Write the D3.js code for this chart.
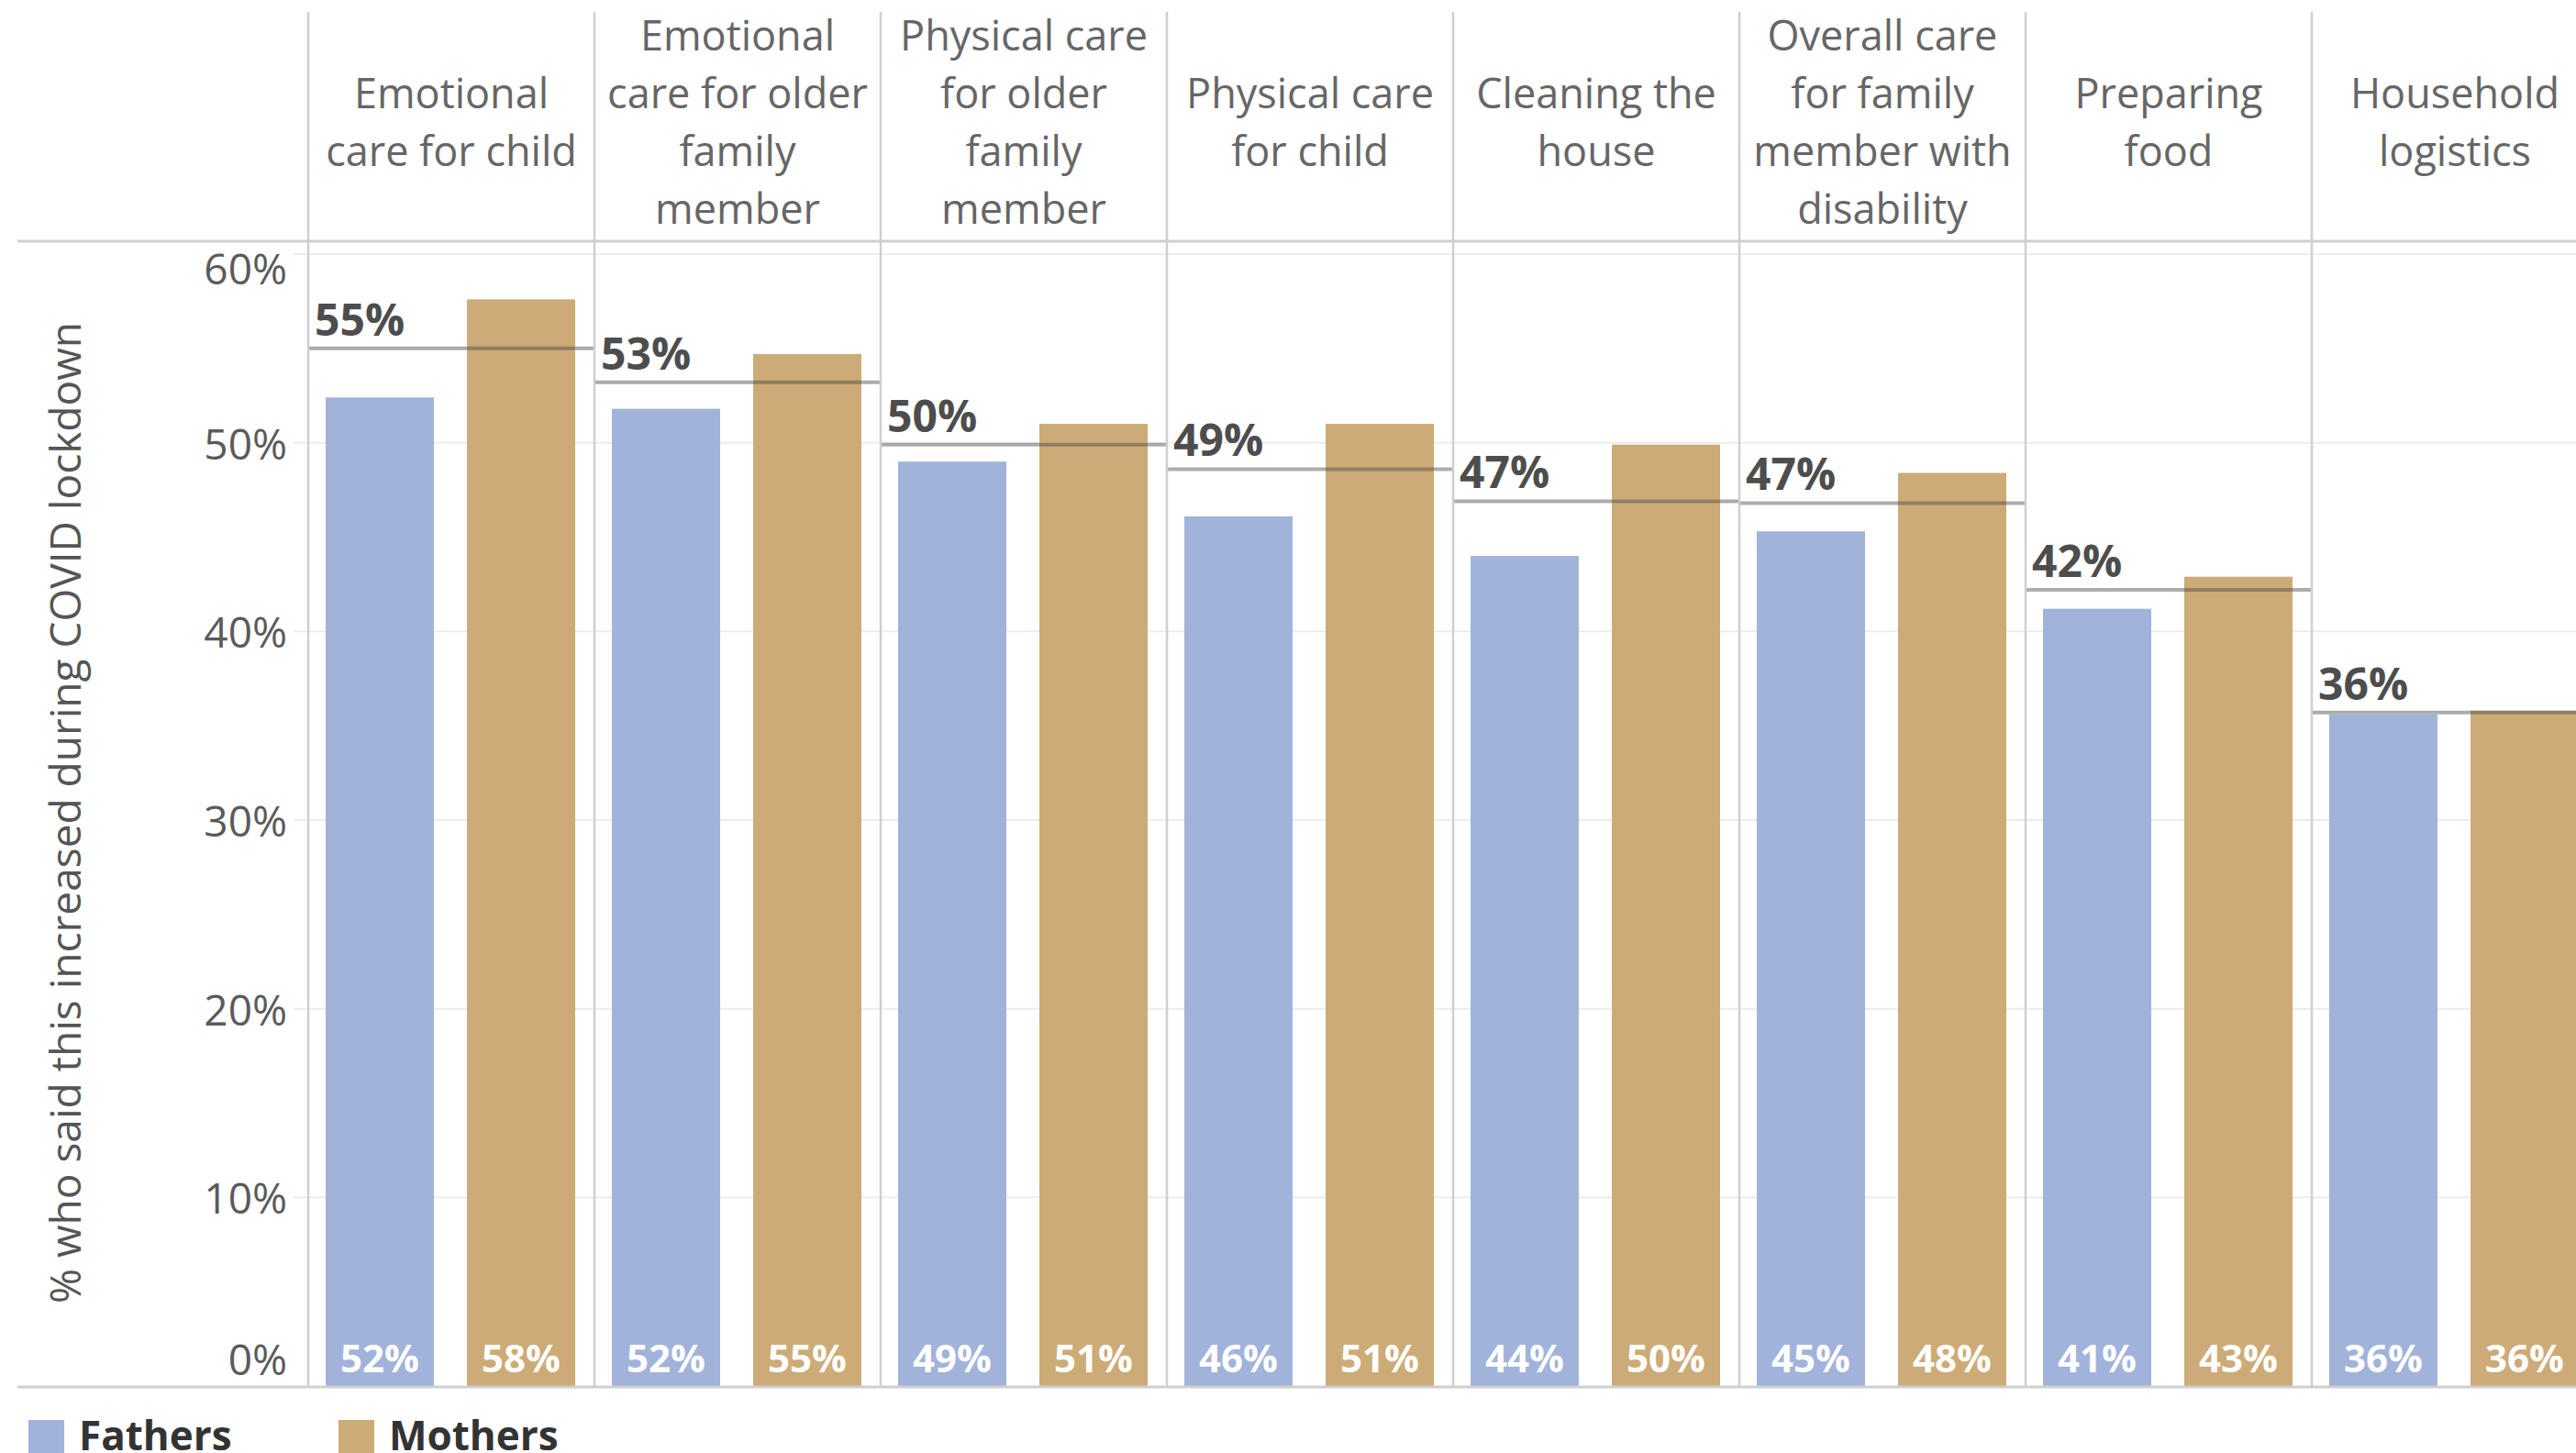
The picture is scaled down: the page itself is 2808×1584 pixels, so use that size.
<!DOCTYPE html>
<html>
<head>
<meta charset="utf-8">
<script src="https://cdn.jsdelivr.net/npm/d3@7"></script>
<style>
  body { margin: 0; background: #fff; }
  svg { display: block; font-family: "Open Sans", sans-serif; }
</style>
</head>
<body>
<svg width="2808" height="1584"></svg>
<script>
var svg = d3.select("svg");
var width = 2808;
var height = 1584;

// data
var categories = [
    "Emotional care for child",
    "Emotional care for older family member",
    "Physical care for older family member",
    "Physical care for child",
    "Cleaning the house",
    "Overall care for family member with disability",
    "Preparing food",
    "Household logistics"
];
// how the column headers wrap
var headerLines = [
    ["Emotional", "care for child"],
    ["Emotional", "care for older", "family", "member"],
    ["Physical care", "for older", "family", "member"],
    ["Physical care", "for child"],
    ["Cleaning the", "house"],
    ["Overall care", "for family", "member with", "disability"],
    ["Preparing", "food"],
    ["Household", "logistics"]
];
var fathers = [52.4, 51.8, 49.0, 46.1, 44.0, 45.3, 41.2, 35.6];
var mothers = [57.6, 54.7, 51.0, 51.0, 49.9, 48.4, 42.9, 35.8];
var average = [55.0, 53.2, 49.9, 48.6, 46.9, 46.8, 42.2, 35.7];
var series = ["Fathers", "Mothers"];
var yTicks = [0, 10, 20, 30, 40, 50, 60];

var colors = { Fathers: "#a1b3da", Mothers: "#cdab77" };

var headerBottom = 263;
var plotLeft = 336;
var colWidth = 312;

var x = d3.scaleBand()
    .domain(categories)
    .range([plotLeft, plotLeft + colWidth * categories.length])
    .padding(0);

// position of the two bars inside a column
var x1 = d3.scaleBand()
    .domain(series)
    .range([19, colWidth - 21])
    .paddingInner(0.234)
    .paddingOuter(0);

var y = d3.scaleLinear()
    .domain([0, 60])
    .range([1511, 277]);

var rows = categories.map((c, i) => ({
    cat: c,
    lines: headerLines[i],
    Fathers: fathers[i],
    Mothers: mothers[i],
    avg: average[i]
}));

// faint gridlines
svg.append("g")
    .selectAll("line")
    .data(yTicks.filter(t => t > 0))
    .enter()
    .append("line")
    .attr("x1", 320)
    .attr("x2", width)
    .attr("y1", d => y(d))
    .attr("y2", d => y(d))
    .attr("stroke", "#ececec")
    .attr("stroke-width", 2);

// y tick labels (end labels pulled inward like the original)
svg.append("g")
    .selectAll("text")
    .data(yTicks)
    .enter()
    .append("text")
    .attr("x", 313)
    .attr("y", d => y(d) + (d === 60 ? 15 : d === 0 ? -30 : 0))
    .attr("text-anchor", "end")
    .attr("dominant-baseline", "central")
    .attr("font-size", 46)
    .attr("fill", "#5a5a5a")
    .text(d => d + "%");

// y axis title
svg.append("text")
    .attr("transform", "translate(70, 886) rotate(-90)")
    .attr("text-anchor", "middle")
    .attr("dominant-baseline", "central")
    .attr("font-size", 46)
    .attr("fill", "#555")
    .text("% who said this increased during COVID lockdown");

var cols = svg.append("g")
    .selectAll("g")
    .data(rows)
    .enter()
    .append("g")
    .attr("transform", d => "translate(" + x(d.cat) + ",0)");

// bars
cols.selectAll("rect")
    .data(d => series.map(s => ({ s: s, v: d[s] })))
    .enter()
    .append("rect")
    .attr("x", d => x1(d.s))
    .attr("width", x1.bandwidth())
    .attr("y", d => y(d.v))
    .attr("height", d => y(0) - y(d.v))
    .attr("fill", d => colors[d.s]);

// value labels at the bottom of the bars
cols.selectAll("text.val")
    .data(d => series.map(s => ({ s: s, v: d[s] })))
    .enter()
    .append("text")
    .attr("class", "val")
    .attr("x", d => x1(d.s) + x1.bandwidth() / 2)
    .attr("y", y(0) - 32)
    .attr("text-anchor", "middle")
    .attr("dominant-baseline", "central")
    .attr("font-size", 42)
    .attr("font-weight", "bold")
    .attr("fill", "#fff")
    .text(d => Math.round(d.v) + "%");

// average line across each column
cols.append("line")
    .attr("x1", 0)
    .attr("x2", x.bandwidth())
    .attr("y1", d => y(d.avg))
    .attr("y2", d => y(d.avg))
    .attr("stroke", "rgba(70,70,70,0.45)")
    .attr("stroke-width", 4);

cols.append("text")
    .attr("x", 7)
    .attr("y", d => y(d.avg) - 14)
    .attr("font-size", 48)
    .attr("font-weight", "bold")
    .attr("fill", "#4d4d4d")
    .text(d => Math.round(d.avg) + "%");

// header labels
cols.append("text")
    .attr("text-anchor", "middle")
    .attr("font-size", 45)
    .attr("fill", "#666")
    .each(function(d) {
        var t = d3.select(this);
        var n = d.lines.length;
        d.lines.forEach((line, i) => {
            t.append("tspan")
                .attr("x", x.bandwidth() / 2)
                .attr("y", 132 + (i - (n - 1) / 2) * 63)
                .attr("dominant-baseline", "central")
                .text(line);
        });
    });

// column separators
svg.append("g")
    .selectAll("line")
    .data(categories)
    .enter()
    .append("line")
    .attr("x1", d => x(d))
    .attr("x2", d => x(d))
    .attr("y1", 13)
    .attr("y2", y(0))
    .attr("stroke", "#cfcfcf")
    .attr("stroke-width", 2.5);

// header rule and baseline
svg.append("line")
    .attr("x1", 19).attr("x2", width)
    .attr("y1", headerBottom).attr("y2", headerBottom)
    .attr("stroke", "#cfcfcf")
    .attr("stroke-width", 3);

svg.append("line")
    .attr("x1", 19).attr("x2", width)
    .attr("y1", y(0) + 1).attr("y2", y(0) + 1)
    .attr("stroke", "#cfcfcf")
    .attr("stroke-width", 3);

// legend
var legend = svg.append("g")
    .selectAll("g")
    .data(series)
    .enter()
    .append("g")
    .attr("transform", (d, i) => "translate(" + (i === 0 ? 31 : 369) + ",1548)");

legend.append("rect")
    .attr("width", 39)
    .attr("height", 40)
    .attr("fill", d => colors[d]);

legend.append("text")
    .attr("x", 55)
    .attr("y", 33)
    .attr("font-size", 44)
    .attr("font-weight", "bold")
    .attr("fill", "#333")
    .text(d => d);
</script>
</body>
</html>
